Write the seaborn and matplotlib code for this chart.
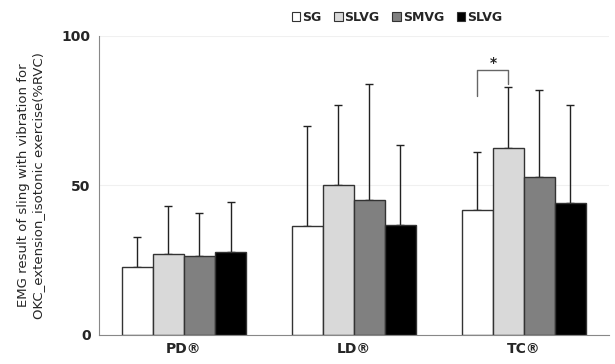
import matplotlib.pyplot as plt
import seaborn as sns
import pandas as pd
from matplotlib.patches import Patch

# values
muscles = ["PD®", "LD®", "TC®"]
groups = ["SG", "SLVG", "SMVG", "SLVG "]
means_pd = [22.8, 27.0, 26.3, 27.6]
means_ld = [36.4, 50.0, 45.2, 36.9]
means_tc = [41.8, 62.6, 52.9, 44.1]
upper_pd = [32.8, 43.0, 40.9, 44.4]
upper_ld = [69.7, 77.0, 83.9, 63.4]
upper_tc = [61.3, 83.0, 81.9, 76.7]
colors = ["#ffffff", "#d9d9d9", "#808080", "#000000"]

rows = []
for m, means, ups in zip(muscles, [means_pd, means_ld, means_tc], [upper_pd, upper_ld, upper_tc]):
    for g, v, u in zip(groups, means, ups):
        rows.append({"muscle": m, "group": g, "value": v, "upper": u})
df = pd.DataFrame(rows)

sns.set_style("white")
plt.rcParams['font.family'] = ['DejaVu Sans']

fig = plt.figure(figsize=(6.15, 3.64), dpi=100)
ax = fig.add_axes([0.161, 0.0797, 0.829, 0.822])

sns.barplot(data=df, x="muscle", y="value", hue="group", palette=colors,
            width=0.73, edgecolor="#333333", linewidth=1.0, errorbar=None,
            legend=False, ax=ax)

# upper-only error bars at bar centres
for p, (_, r) in zip(ax.patches, df.sort_values(["group"], key=lambda s: s.map(groups.index), kind="stable").iterrows()):
    cx = p.get_x() + p.get_width() / 2
    ax.errorbar(cx, r["value"], yerr=[[0], [r["upper"] - r["value"]]],
                color="#222222", lw=1.0, capsize=3, capthick=1.0, zorder=1)
for p in ax.patches:
    p.set_zorder(2)

# significance bracket between SG and SLVG at TC
tc_sg = ax.patches[2]
tc_slvg = ax.patches[5]
x1 = tc_sg.get_x() + tc_sg.get_width() / 2
x2 = tc_slvg.get_x() + tc_slvg.get_width() / 2
ax.plot([x1, x1, x2, x2], [80, 88.5, 88.5, 84], color="#666666", lw=1.0)
ax.text((x1 + x2) / 2, 88.5, "*", ha="center", va="bottom", fontsize=10, fontweight="bold")

ax.set_ylim(0, 100)
ax.set_xlim(-0.5, 2.5)
ax.set_yticks([0, 50, 100])
ax.set_yticklabels(["0", "50", "100"], fontweight="bold", fontsize=10)
ax.set_xticks([0, 1, 2])
ax.set_xticklabels(muscles, fontweight="bold", fontsize=10)
ax.set_xticks([0.5, 1.5], minor=True)
ax.tick_params(axis="x", which="major", length=0, pad=5)
ax.tick_params(axis="x", which="minor", length=4, color="#aaaaaa", direction="out")
ax.tick_params(axis="y", length=4, color="#888888", direction="out", pad=2)
ax.yaxis.grid(True, color="#f0f0f0", lw=0.8)
ax.set_axisbelow(True)
for s in ["top", "right"]:
    ax.spines[s].set_visible(False)
ax.spines["left"].set_color("#888888")
ax.spines["bottom"].set_color("#888888")
ax.set_xlabel("")
ax.set_ylabel("EMG result of sling with vibration for\nOKC_extension_isotonic exercise(%RVC)", fontsize=9.5, labelpad=12)

handles = [Patch(facecolor=c, edgecolor="#333333", lw=0.8) for c in colors]
leg = fig.legend(handles, ["SG", "SLVG", "SMVG", "SLVG"], ncol=4, loc="center right",
                 bbox_to_anchor=(0.835, 0.953), frameon=False, prop={"weight": "bold", "size": 9},
                 handlelength=0.7, handleheight=0.7, handletextpad=0.15, columnspacing=1.0)

fig.savefig("out.png", dpi=100)
